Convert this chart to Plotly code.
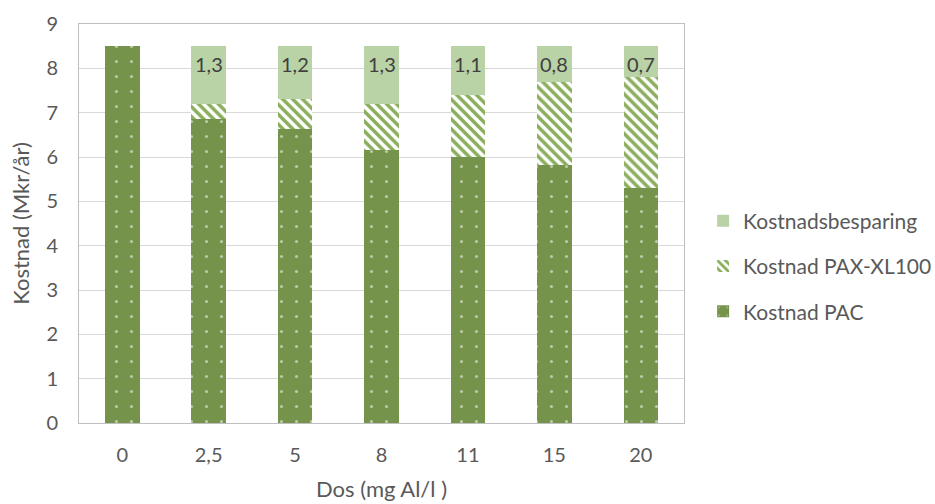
import plotly.graph_objects as go

# Dose categories (mg Al/l) and yearly costs (Mkr/år)
doses = ["0", "2,5", "5", "8", "11", "15", "20"]
cost_pac = [8.5, 6.85, 6.64, 6.16, 6.01, 5.83, 5.29]
cost_pax = [0.0, 0.35, 0.66, 1.04, 1.39, 1.87, 2.51]
savings = [0.0, 1.3, 1.2, 1.3, 1.1, 0.8, 0.7]

FONT = "Lato"
TXT = "#595959"

fig = go.Figure()

fig.add_trace(go.Bar(
    name="Kostnad PAC", x=doses, y=cost_pac, legendgroup="pac", legendrank=3,
    marker=dict(color="#76934B", line=dict(width=0),
                pattern=dict(shape=".", fgcolor="white", bgcolor="#76934B",
                             size=15, solidity=0.035, fillmode="overlay")),
))
fig.add_trace(go.Bar(
    name="Kostnad PAX-XL100", x=doses, y=cost_pax, legendgroup="pax", legendrank=2,
    marker=dict(color="white", line=dict(width=0),
                pattern=dict(shape="\\", fgcolor="#8AAE5C", bgcolor="white",
                             size=7, solidity=0.5, fillmode="replace")),
))
fig.add_trace(go.Bar(
    name="Kostnadsbesparing", x=doses, y=savings, legendgroup="sav", legendrank=1,
    marker=dict(color="#B9D3A6", line=dict(width=0)),
))

# value labels for the savings segment, placed near the top of each stack
# (category positions are given by index so numeric-looking names stay categories)
for i, (p, x, s) in enumerate(zip(cost_pac, cost_pax, savings)):
    if s > 0:
        fig.add_annotation(
            x=i, y=p + x + s, yanchor="top", yshift=-4, showarrow=False,
            text=f"{s:.1f}".replace(".", ","),
            font=dict(family=FONT, size=20, color="#404040"),
        )

fig.update_layout(
    width=935, height=504,
    margin=dict(l=79, r=251, t=24, b=81, autoexpand=False),
    barmode="stack", bargap=0.6,
    plot_bgcolor="white", paper_bgcolor="white",
    font=dict(family=FONT, size=20, color=TXT),
    showlegend=True,
    legend=dict(
        xref="container", yref="container",
        x=0.752, y=0.472, xanchor="left", yanchor="middle",
        traceorder="grouped", tracegroupgap=15,
        font=dict(family=FONT, size=21, color=TXT),
        itemwidth=30,
    ),
    xaxis=dict(
        type="category", range=[-0.5, len(doses) - 0.5], automargin=False,
        title=dict(text="Dos (mg Al/l )", font=dict(family=FONT, size=22, color=TXT), standoff=16),
        showline=True, linecolor="#BFBFBF", linewidth=1, mirror=True,
        ticks="", ticklabelstandoff=14,
        tickfont=dict(family=FONT, size=20, color=TXT),
    ),
    yaxis=dict(
        title=dict(text="Kostnad (Mkr/år)", font=dict(family=FONT, size=22, color=TXT), standoff=10),
        range=[0, 9], dtick=1, automargin=False,
        showgrid=True, gridcolor="#D9D9D9", gridwidth=1,
        showline=True, linecolor="#BFBFBF", linewidth=1, mirror=True,
        zeroline=False, ticks="", ticklabelstandoff=16,
        tickfont=dict(family=FONT, size=20, color=TXT),
    ),
)

fig.write_html("out.html")
